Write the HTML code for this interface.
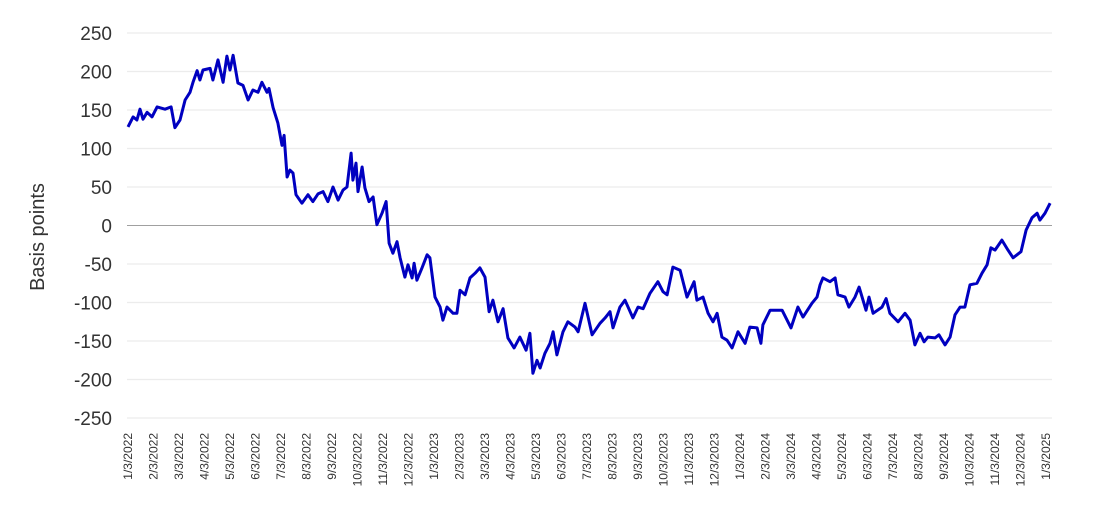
<!DOCTYPE html>
<html><head><meta charset="utf-8">
<style>
html,body{margin:0;padding:0;background:#fff;}
svg{display:block;font-family:"Liberation Sans","Noto Sans CJK JP",sans-serif;}
</style></head>
<body>
<svg id="chart" width="1094" height="527" viewBox="0 0 1094 527" xmlns="http://www.w3.org/2000/svg">
<g id="grid"></g>
<g id="yticks"></g>
<g id="xticks"></g>
<text transform="translate(44,237) rotate(-90)" text-anchor="middle" font-size="20" fill="#333">Basis points</text>
<path id="line" fill="none" stroke="#0000c0" stroke-width="3" stroke-linejoin="round"/>
</svg>
<script>
const yTicks=[250,200,150,100,50,0,-50,-100,-150,-200,-250];
const xLabels=[];
(function(){for(let i=0;i<37;i++){const y=2022+Math.floor(i/12);const m=i%12+1;xLabels.push(m+"/3/"+y);}})();
const monthIdx=[0,0.20,0.35,0.47,0.59,0.75,0.94,1.14,1.45,1.69,1.84,2.04,2.24,2.43,2.55,2.71,2.82,2.94,3.22,3.33,3.53,3.73,3.88,4.00,4.12,4.31,4.51,4.71,4.90,5.10,5.25,5.45,5.53,5.69,5.88,6.04,6.12,6.24,6.35,6.47,6.59,6.82,7.06,7.25,7.45,7.65,7.84,8.04,8.24,8.43,8.59,8.75,8.82,8.94,9.02,9.18,9.29,9.45,9.61,9.76,9.96,10.12,10.24,10.39,10.55,10.67,10.86,10.98,11.14,11.22,11.33,11.53,11.73,11.84,12.04,12.24,12.35,12.51,12.75,12.90,13.02,13.22,13.41,13.61,13.80,14.00,14.16,14.31,14.51,14.71,14.90,15.14,15.37,15.61,15.76,15.88,16.04,16.16,16.35,16.55,16.67,16.82,17.06,17.25,17.53,17.65,17.92,18.20,18.51,18.71,18.90,19.02,19.29,19.49,19.80,20.00,20.20,20.47,20.78,20.98,21.14,21.37,21.65,21.92,22.20,22.31,22.55,22.75,22.94,23.10,23.29,23.49,23.69,23.92,24.20,24.39,24.67,24.82,24.90,25.18,25.45,25.65,26.00,26.27,26.47,26.82,27.02,27.14,27.25,27.53,27.73,27.84,28.12,28.27,28.51,28.67,28.94,29.06,29.22,29.57,29.73,29.88,30.20,30.47,30.67,30.86,31.06,31.22,31.37,31.65,31.80,32.04,32.24,32.43,32.63,32.82,33.02,33.29,33.49,33.69,33.84,34.00,34.27,34.51,34.71,35.02,35.22,35.45,35.65,35.76,35.96,36.16];
const values=[128,141,137,151,138,147,141,154,151,154,127,137,163,173,186,201,189,202,204,189,215,186,220,202,221,185,182,163,176,173,186,173,178,153,133,104,117,63,72,68,40,29,40,31,41,44,31,50,33,46,50,94,59,81,44,76,49,31,37,1,16,31,-23,-36,-21,-42,-67,-51,-68,-49,-71,-55,-38,-42,-93,-106,-123,-106,-114,-114,-84,-90,-68,-62,-55,-67,-112,-97,-125,-108,-146,-159,-145,-162,-140,-192,-175,-185,-166,-153,-138,-168,-138,-125,-132,-138,-101,-142,-127,-120,-112,-133,-106,-97,-120,-106,-108,-88,-73,-86,-90,-54,-58,-93,-73,-97,-93,-114,-125,-114,-145,-149,-159,-138,-153,-132,-133,-153,-129,-110,-110,-110,-133,-106,-119,-101,-93,-77,-68,-73,-68,-90,-93,-106,-93,-80,-110,-93,-114,-106,-95,-114,-125,-114,-123,-155,-140,-151,-145,-146,-142,-155,-145,-116,-106,-106,-77,-75,-62,-51,-29,-32,-19,-32,-42,-34,-6,10,16,7,16,29];

const X0=128, XS=25.5, Y0=225.5, YS=0.77;
const xPos=m=>X0+m*XS;
const yPos=v=>Y0-v*YS;
const NS="http://www.w3.org/2000/svg";
const grid=document.getElementById('grid'), yt=document.getElementById('yticks'), xt=document.getElementById('xticks');
yTicks.forEach(v=>{
  const l=document.createElementNS(NS,'line');
  
  
  l.setAttribute('x1',127);l.setAttribute('x2',1052);
  l.setAttribute('y1',yPos(v));l.setAttribute('y2',yPos(v));
  l.setAttribute('stroke',v===0?'#a0a0a0':'#ececec');l.setAttribute('stroke-width',v===0?1:1.2);
  grid.appendChild(l);
  const t=document.createElementNS(NS,'text');
  
  
  t.setAttribute('x',112);t.setAttribute('y',yPos(v)+7);
  t.setAttribute('text-anchor','end');t.setAttribute('font-size','19');t.setAttribute('fill','#333');
  t.textContent=v;yt.appendChild(t);
});
xLabels.forEach((s,i)=>{
  const t=document.createElementNS(NS,'text');
  
  
  const x=xPos(i)+4;
  t.setAttribute('transform','translate('+x+',433) rotate(-90)');
  t.setAttribute('text-anchor','end');t.setAttribute('font-size','12');t.setAttribute('fill','#333');
  t.textContent=s;xt.appendChild(t);
});
let d='';
values.forEach((v,i)=>{d+=(i?'L':'M')+xPos(monthIdx[i]).toFixed(1)+','+yPos(v).toFixed(1);});
document.getElementById('line').setAttribute('d',d);
</script>
</body></html>
